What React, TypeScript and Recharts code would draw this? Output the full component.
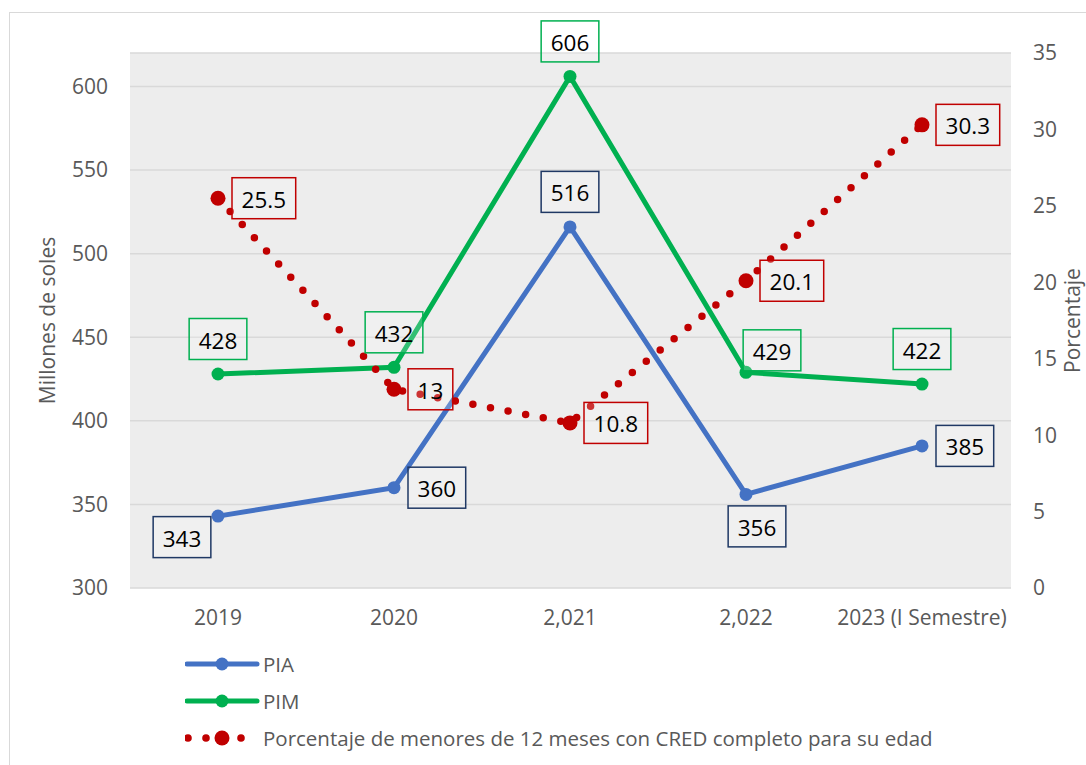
import { CartesianGrid, LabelList, Legend, Line, LineChart, XAxis, YAxis } from "recharts";

const years = ["2019", "2020", "2,021", "2,022", "2023 (I Semestre)"];
const pia = [343, 360, 516, 356, 385];
const pim = [428, 432, 606, 429, 422];
const cred = [25.5, 13, 10.8, 20.1, 30.3];

const leftTicks = [300, 350, 400, 450, 500, 550, 600];
const rightTicks = [0, 5, 10, 15, 20, 25, 30, 35];

const credName = "Porcentaje de menores de 12 meses con CRED completo para su edad";

// where each data label box sits relative to its point
const piaSpots = ["lowLeft", "right", "top", "low", "right"];
const pimSpots = ["top", "top", "top", "topRight", "top"];
const credSpots = ["right", "right", "right", "right", "right"];

const data = years.map((year, i) => ({ year, pia: pia[i], pim: pim[i], cred: cred[i] }));

const BLUE = "#4472c4";
const GREEN = "#00b050";
const RED = "#c00000";
const GREY = "#595959";

function place(spot: string, x: number, y: number, w: number): [number, number] {
  switch (spot) {
    case "right":
      return [x + 14 + w / 2, y];
    case "lowLeft":
      return [x - 36, y + 21];
    case "low":
      return [x + 11, y + 32];
    case "topRight":
      return [x + 26, y - 22];
    default:
      return [x, y - 35];
  }
}

function boxLabel(border: string, spots: string[]) {
  return (props: any) => {
    const { x, y, value, index } = props;
    const text = String(value);
    const w = 19 + [...text].reduce((s, c) => s + (c === "." ? 6 : 12.9), 0);
    const [cx, cy] = place(spots[index], Number(x), Number(y), w);
    return (
      <g>
        <rect x={cx - w / 2} y={cy - 20.5} width={w} height={41} fill="#ffffff" fillOpacity={0.2} stroke={border} strokeWidth={1.5} />
        <text x={cx} y={cy + 1} textAnchor="middle" dominantBaseline="central" fontSize={22.5} fill="#000">
          {text}
        </text>
      </g>
    );
  };
}

function AxisTitle({ viewBox, text, dx }: any) {
  const cx = viewBox.x + dx;
  const cy = viewBox.y + viewBox.height / 2;
  return (
    <text x={cx} y={cy} transform={`rotate(-90 ${cx} ${cy})`} textAnchor="middle" dominantBaseline="central" fontSize={21} fill={GREY}>
      {text}
    </text>
  );
}

function LegendBox() {
  const rows = [
    { name: "PIA", color: BLUE, dotted: false },
    { name: "PIM", color: GREEN, dotted: false },
    { name: credName, color: RED, dotted: true },
  ];
  return (
    <div>
      {rows.map((r) => (
        <div key={r.name} style={{ display: "flex", alignItems: "center", height: 37 }}>
          <svg width={78} height={20} style={{ display: "block" }}>
            {r.dotted ? (
              <g fill={r.color}>
                <circle cx={3} cy={10} r={3.8} />
                <circle cx={21} cy={10} r={3.8} />
                <circle cx={37} cy={10} r={7.5} />
                <circle cx={56} cy={10} r={3.8} />
              </g>
            ) : (
              <g>
                <line x1={2} y1={10} x2={72} y2={10} stroke={r.color} strokeWidth={5} strokeLinecap="round" />
                <circle cx={37} cy={10} r={6.5} fill={r.color} />
              </g>
            )}
          </svg>
          <span style={{ fontSize: 20.5, color: GREY, whiteSpace: "nowrap" }}>{r.name}</span>
        </div>
      ))}
    </div>
  );
}

export default function App() {
  const tick = { fill: GREY, fontSize: 21 };
  return (
    <div
      style={{
        position: "absolute",
        left: 0,
        top: 0,
        width: 1086,
        height: 765,
        overflow: "hidden",
        background: "#fff",
        fontFamily: "'Open Sans', sans-serif",
      }}
    >
      <div
        style={{
          position: "absolute",
          left: 9,
          top: 12,
          width: 1077,
          height: 753,
          borderTop: "1.5px solid #d9d9d9",
          borderLeft: "1.5px solid #d9d9d9",
          boxSizing: "border-box",
        }}
      />
      <div style={{ position: "absolute", left: 0, top: 0 }}>
        <LineChart width={1086} height={765} data={data} margin={{ top: 53, right: 0, left: 0, bottom: 137 }}>
          <CartesianGrid yAxisId="left" vertical={false} fill="#ededed" stroke="#d9d9d9" strokeWidth={1.5} />
          <XAxis
            dataKey="year"
            interval={0}
            padding={{ left: 88, right: 89 }}
            axisLine={false}
            tickLine={false}
            tickSize={0}
            tickMargin={22}
            height={40}
            tick={tick}
          />
          <YAxis
            yAxisId="left"
            domain={[300, 620]}
            ticks={leftTicks}
            width={130}
            axisLine={false}
            tickLine={false}
            tickSize={0}
            tickMargin={22}
            tick={tick}
            label={(p: any) => <AxisTitle {...p} text="Millones de soles" dx={47} />}
          />
          <YAxis
            yAxisId="right"
            orientation="right"
            domain={[0, 35]}
            ticks={rightTicks}
            width={75}
            axisLine={false}
            tickLine={false}
            tickSize={0}
            tickMargin={22}
            tick={tick}
            label={(p: any) => <AxisTitle {...p} text="Porcentaje" dx={61} />}
          />
          <Legend
            layout="horizontal"
            verticalAlign="middle"
            align="center"
            wrapperStyle={{ left: 185, top: 645, width: 860, height: 115 }}
            content={() => <LegendBox />}
          />
          <Line
            yAxisId="left"
            dataKey="pia"
            name="PIA"
            stroke={BLUE}
            strokeWidth={5}
            dot={{ r: 6.5, fill: BLUE, strokeWidth: 0 }}
            isAnimationActive={false}
          >
            <LabelList dataKey="pia" content={boxLabel("#1f3864", piaSpots)} />
          </Line>
          <Line
            yAxisId="left"
            dataKey="pim"
            name="PIM"
            stroke={GREEN}
            strokeWidth={5}
            dot={{ r: 6.5, fill: GREEN, strokeWidth: 0 }}
            isAnimationActive={false}
          >
            <LabelList dataKey="pim" content={boxLabel(GREEN, pimSpots)} />
          </Line>
          <Line
            yAxisId="right"
            dataKey="cred"
            name={credName}
            stroke={RED}
            strokeWidth={7.5}
            strokeDasharray="0 17.9"
            strokeLinecap="round"
            dot={{ r: 7.5, fill: RED, strokeWidth: 0, strokeDasharray: "none" }}
            isAnimationActive={false}
          >
            <LabelList dataKey="cred" content={boxLabel(RED, credSpots)} />
          </Line>
        </LineChart>
      </div>
    </div>
  );
}
